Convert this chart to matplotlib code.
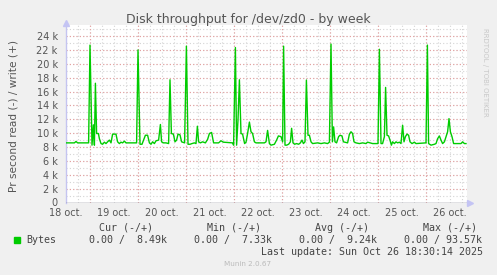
import matplotlib
matplotlib.use("Agg")
import matplotlib.pyplot as plt
from matplotlib.patches import Rectangle
from matplotlib.ticker import FixedLocator, FuncFormatter

# write throughput, hours since 18 oct 00:00 and kB/s
hours = [12.0, 16.2, 17.0, 17.8, 23.3, 24.0, 25.0, 25.7, 26.2, 26.7, 27.3, 28.2,
         28.7, 29.5, 30.3, 31.2, 32.0, 32.8, 33.7, 34.5, 35.3, 37.0, 37.8, 38.7,
         39.5, 40.3, 41.2, 42.0, 47.3, 48.0, 49.0, 50.0, 50.8, 51.7, 52.8, 53.7,
         54.5, 55.3, 56.2, 57.0, 58.3, 59.2, 59.8, 60.7, 62.0,
         63.3, 64.0, 64.7, 65.7, 66.5, 67.3, 68.0, 69.0, 69.8, 71.3, 72.2, 73.0,
         74.0, 75.0, 76.2, 77.0, 77.7, 78.3, 79.2, 80.3, 81.7, 82.8, 83.7, 84.8,
         85.8, 88.3, 89.5, 90.7, 95.3, 95.8, 96.7, 97.3, 98.0, 98.7, 99.5, 100.3,
         101.3, 102.0, 102.8, 103.7, 104.5, 105.3, 106.2, 107.0, 111.2,
         112.0, 112.8, 113.7, 114.5, 116.2, 117.3, 118.2, 119.5, 120.3, 120.8,
         121.5, 122.3, 123.3, 124.2, 124.8, 125.5, 126.3, 127.3, 128.3, 129.2,
         130.0, 130.7, 131.5, 132.2, 133.0, 133.7, 134.5, 135.3, 137.8, 139.5,
         141.2, 142.8, 143.7, 144.5, 145.2, 145.8, 146.5, 147.3, 148.3, 149.0,
         150.0, 150.7, 152.8, 153.7, 154.5, 155.3, 156.0, 157.0, 158.7, 160.3,
         162.0, 162.8, 165.3, 168.0, 168.7, 169.5, 170.3, 171.2, 171.8, 172.5,
         173.3, 174.0, 174.7, 175.3, 176.2, 177.0, 177.8, 178.7, 179.5, 180.3,
         181.0, 181.7, 182.5, 183.3, 184.0, 185.0, 186.2, 187.0, 192.0, 192.7,
         193.3, 194.5, 196.2, 197.0, 197.8, 198.7, 199.5, 200.3, 201.2, 202.0,
         202.8, 203.5, 204.2, 205.0, 205.8, 209.5, 210.3, 211.2, 212.0]
write_k = [8.6, 8.6, 8.8, 8.6, 8.6, 22.7, 8.27, 11.2, 8.27, 17.2, 9.95, 9.95,
           9.2, 8.5, 8.4, 8.7, 8.5, 8.75, 9.0, 8.6, 9.86, 9.86, 8.75, 8.5,
           8.7, 8.6, 8.85, 8.6, 8.6, 22.0, 8.4, 8.4, 9.0, 9.7, 9.7, 8.6,
           8.4, 8.75, 8.5, 8.9, 9.0, 11.25, 8.75, 8.6, 8.6,
           8.5, 17.7, 9.95, 9.86, 8.75, 9.0, 9.86, 9.76, 8.75, 8.6, 22.55, 8.4,
           8.4, 8.5, 8.6, 8.5, 11.0, 8.75, 8.6, 8.75, 8.6, 9.1, 9.95, 10.1,
           8.6, 8.6, 8.9, 8.7, 8.6, 8.27, 22.35, 8.27, 11.9, 17.7, 9.95, 9.86,
           8.5, 8.7, 9.95, 11.6, 10.2, 9.95, 8.75, 8.6, 8.6,
           8.75, 10.4, 8.5, 8.27, 8.4, 9.0, 9.6, 9.5, 8.75, 22.55,
           8.27, 8.27, 8.4, 8.75, 10.7, 8.6, 8.4, 8.5, 8.4, 8.6,
           9.0, 8.5, 8.75, 17.65, 9.7, 9.7, 8.75, 8.5, 8.6, 8.5,
           8.6, 8.5, 8.7, 22.85, 8.75, 10.9, 8.75, 8.6, 9.5, 9.7,
           9.6, 8.75, 8.6, 9.86, 10.2, 9.95, 8.75, 8.6, 8.5, 8.6,
           8.5, 8.7, 8.5, 8.5, 22.1, 8.5, 8.5, 9.5, 16.6, 9.7,
           9.6, 9.0, 8.27, 8.75, 8.5, 8.75, 8.6, 8.7, 8.5, 11.15,
           8.75, 9.5, 9.86, 9.7, 8.75, 8.5, 8.7, 8.5, 8.6, 22.7,
           8.5, 8.27, 8.4, 8.5, 9.2, 9.6, 9.0, 8.5, 8.75, 9.5,
           10.2, 12.1, 10.2, 9.5, 8.5, 8.5, 8.75, 8.5, 8.5]

day_labels = ["18 oct.", "19 oct.", "20 oct.", "21 oct.", "22 oct.",
              "23 oct.", "24 oct.", "25 oct.", "26 oct."]
legend_cols = ["Cur (-/+)", "Min (-/+)", "Avg (-/+)", "Max (-/+)"]
legend_vals = ["0.00 /  8.49k", "0.00 /  7.33k", "0.00 /  9.24k", "0.00 / 93.57k"]

W, H = 497, 275
fig = plt.figure(figsize=(W / 100, H / 100), dpi=100, facecolor="#F0F0F0")
ax = fig.add_axes([66 / W, (H - 202.5) / H, 401 / W, 177.5 / H])
ax.set_facecolor("white")

ax.set_xlim(12, 212.5)
ax.set_ylim(0, 25600)

# grid, minor first then major
for h in range(18, 213, 6):
    ax.axvline(h, color="#D4D4D4", lw=0.8, ls=(0, (1, 2)), zorder=1)
for v in range(1000, 25001, 1000):
    ax.axhline(v, color="#D4D4D4", lw=0.8, ls=(0, (1, 2)), zorder=1)
for h in range(24, 213, 24):
    ax.axvline(h, color="#E6A0A0", lw=0.8, ls=(0, (1, 2)), zorder=1)
for v in range(2000, 25001, 2000):
    ax.axhline(v, color="#E6A0A0", lw=0.8, ls=(0, (1, 2)), zorder=1)

ax.plot(hours, [v * 1000 for v in write_k], color="#00CC00", lw=1.0, zorder=3)
ax.axhline(0, color="#6A6A7A", lw=1.0, zorder=4)

for s in ["top", "right", "bottom"]:
    ax.spines[s].set_visible(False)
ax.spines["left"].set_color("#C4C4F0")
ax.spines["left"].set_linewidth(1.0)

ax.plot([1.008], [0], marker=">", color="#C4C4F4", markersize=5,
        transform=ax.transAxes, clip_on=False)
ax.plot([0], [1.01], marker="^", color="#C4C4F4", markersize=5,
        transform=ax.transAxes, clip_on=False)

ax.yaxis.set_major_locator(FixedLocator(range(0, 25000, 2000)))
ax.yaxis.set_major_formatter(FuncFormatter(lambda v, p: "0" if v == 0 else "%d k" % (v / 1000)))
ax.xaxis.set_major_locator(FixedLocator([12 + 24 * i for i in range(len(day_labels))]))
ax.set_xticklabels(day_labels)
ax.tick_params(length=0, labelsize=7, labelcolor="#555555")
ax.tick_params(axis="y", pad=6)
ax.tick_params(axis="x", pad=4)

fig.text(14 / W, 1 - 116 / H, "Pr second read (-) / write (+)", rotation=90,
         ha="center", va="center", fontsize=7.6, color="#555555")

fig.text(248.5 / W, 1 - 19 / H, "Disk throughput for /dev/zd0 - by week",
         ha="center", va="center", fontsize=9, color="#555555")
fig.text(485 / W, 1 - 28 / H, "RRDTOOL / TOBI OETIKER", rotation=270,
         ha="center", va="top", fontsize=5, color="#C8C8C8")

mono = "DejaVu Sans Mono"
col_x = [98.7, 206.7, 315.0, 422.7]
val_x = [89.3, 194.3, 299.3, 404.3]
for x, t in zip(col_x, legend_cols):
    fig.text(x / W, 1 - 227.7 / H, t, family=mono, fontsize=7.2,
             color="#444444", va="center")
fig.add_artist(Rectangle((14 / W, 1 - 242.5 / H), 6 / W, 6 / H,
                         transform=fig.transFigure, color="#00CC00"))
fig.text(26.7 / W, 1 - 240 / H, "Bytes", family=mono, fontsize=7.2,
         color="#444444", va="center")
for x, t in zip(val_x, legend_vals):
    fig.text(x / W, 1 - 240 / H, t, family=mono, fontsize=7.2,
             color="#444444", va="center")
fig.text(483 / W, 1 - 251.7 / H, "Last update: Sun Oct 26 18:30:14 2025",
         family=mono, fontsize=7.2, color="#444444", va="center", ha="right")
fig.text(248 / W, 1 - 264 / H, "Munin 2.0.67", fontsize=5.2,
         color="#BBBBBB", ha="center", va="center")

fig.savefig("out.png", dpi=100, facecolor=fig.get_facecolor())
